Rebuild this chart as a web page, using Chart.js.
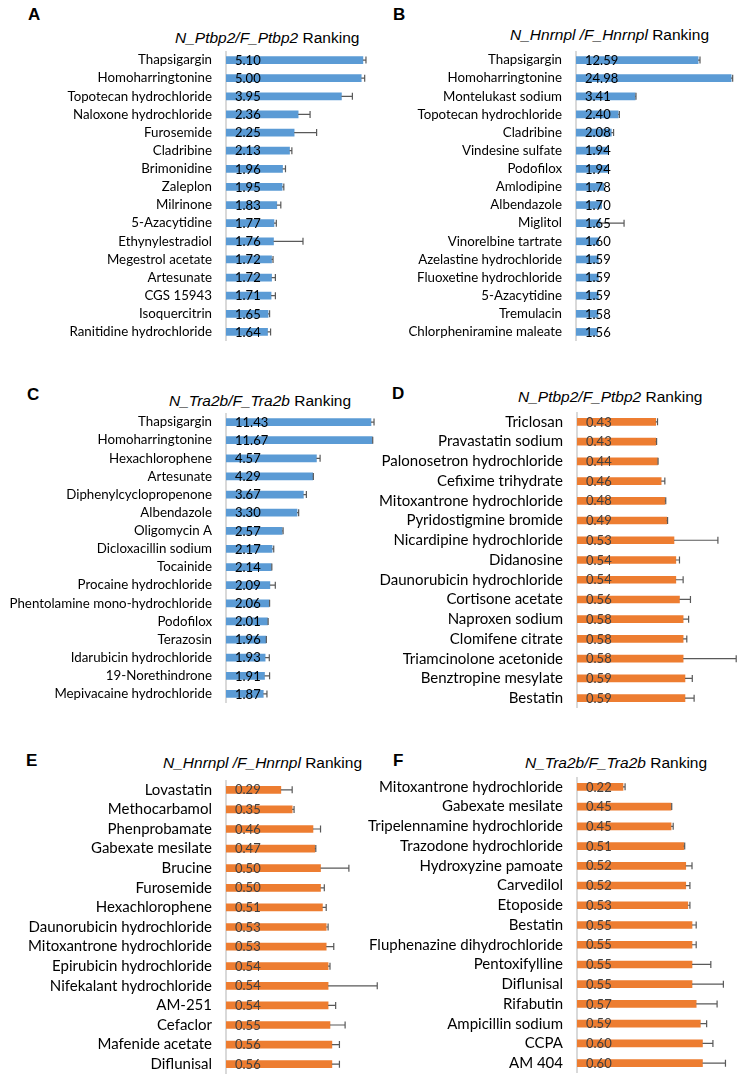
<!DOCTYPE html>
<html>
<head>
<meta charset="utf-8">
<script src="https://cdn.jsdelivr.net/npm/chart.js@4.4.1/dist/chart.umd.min.js"></script>
<style>
  body { margin: 0; background: #fff; width: 747px; height: 1080px; position: relative; overflow: hidden; }
  canvas { position: absolute; }
  .letter { position: absolute; font: bold 17px "Liberation Sans", Arial, sans-serif; line-height: 17px; }
  .ttl { position: absolute; font: 15.5px "Liberation Sans", Arial, sans-serif; line-height: 16px; white-space: nowrap; }
</style>
</head>
<body>
<div class="letter" style="left:28px;top:6px">A</div>
<div class="letter" style="left:393px;top:6px">B</div>
<div class="letter" style="left:27px;top:386px">C</div>
<div class="letter" style="left:392px;top:385px">D</div>
<div class="letter" style="left:26px;top:752px">E</div>
<div class="letter" style="left:393px;top:752px">F</div>

<div class="ttl" style="left:175px;top:30px"><i>N_Ptbp2/F_Ptbp2</i> Ranking</div>
<div class="ttl" style="left:510px;top:27px"><i>N_Hnrnpl /F_Hnrnpl</i> Ranking</div>
<div class="ttl" style="left:169px;top:393px"><i>N_Tra2b/F_Tra2b</i> Ranking</div>
<div class="ttl" style="left:518px;top:389px"><i>N_Ptbp2/F_Ptbp2</i> Ranking</div>
<div class="ttl" style="left:163px;top:755px"><i>N_Hnrnpl /F_Hnrnpl</i> Ranking</div>
<div class="ttl" style="left:525px;top:755px"><i>N_Tra2b/F_Tra2b</i> Ranking</div>

<canvas id="chartA" width="370" height="290" style="left:0px;top:51px"></canvas>
<canvas id="chartB" width="387" height="290" style="left:360px;top:51px"></canvas>
<canvas id="chartC" width="380" height="290" style="left:0px;top:413px"></canvas>
<canvas id="chartD" width="387" height="296" style="left:360px;top:412px"></canvas>
<canvas id="chartE" width="385" height="294" style="left:0px;top:780px"></canvas>
<canvas id="chartF" width="387" height="296" style="left:360px;top:777px"></canvas>

<script>
// panel A: N_Ptbp2/F_Ptbp2, top ranked
const aLabels = ['Thapsigargin', 'Homoharringtonine', 'Topotecan hydrochloride', 'Naloxone hydrochloride', 'Furosemide', 'Cladribine', 'Brimonidine', 'Zaleplon', 'Milrinone', '5-Azacytidine', 'Ethynylestradiol', 'Megestrol acetate', 'Artesunate', 'CGS 15943', 'Isoquercitrin', 'Ranitidine hydrochloride'];
const aValues = [5.10, 5.00, 3.95, 2.36, 2.25, 2.13, 1.96, 1.95, 1.83, 1.77, 1.76, 1.72, 1.72, 1.71, 1.65, 1.64];
const aErrors = [0.19, 0.21, 0.55, 0.36, 0.69, 0.06, 0.07, 0.04, 0.09, 0.05, 0.74, 0.03, 0.08, 0.09, 0.03, 0.06];

// panel B: N_Hnrnpl/F_Hnrnpl, top ranked
const bLabels = ['Thapsigargin', 'Homoharringtonine', 'Montelukast sodium', 'Topotecan hydrochloride', 'Cladribine', 'Vindesine sulfate', 'Podofilox', 'Amlodipine', 'Albendazole', 'Miglitol', 'Vinorelbine tartrate', 'Azelastine hydrochloride', 'Fluoxetine hydrochloride', '5-Azacytidine', 'Tremulacin', 'Chlorpheniramine maleate'];
const bValues = [12.59, 24.98, 3.41, 2.40, 2.08, 1.94, 1.94, 1.78, 1.70, 1.65, 1.60, 1.59, 1.59, 1.59, 1.58, 1.56];
const bErrors = [0.5, 0.8, 0.06, 0.06, 0.1, 0, 0, 0, 0, 1.06, 0, 0, 0, 0, 0, 0];

// panel C: N_Tra2b/F_Tra2b, top ranked
const cLabels = ['Thapsigargin', 'Homoharringtonine', 'Hexachlorophene', 'Artesunate', 'Diphenylcyclopropenone', 'Albendazole', 'Oligomycin A', 'Dicloxacillin sodium', 'Tocainide', 'Procaine hydrochloride', 'Phentolamine mono-hydrochloride', 'Podofilox', 'Terazosin', 'Idarubicin hydrochloride', '19-Norethindrone', 'Mepivacaine hydrochloride'];
const cValues = [11.43, 11.67, 4.57, 4.29, 3.67, 3.30, 2.57, 2.17, 2.14, 2.09, 2.06, 2.01, 1.96, 1.93, 1.91, 1.87];
const cErrors = [0.6, 0.1, 0.29, 0.05, 0.19, 0.09, 0.04, 0.06, 0.02, 0.2, 0.02, 0.02, 0.01, 0.14, 0.17, 0.12];

// panel D: N_Ptbp2/F_Ptbp2, bottom ranked
const dLabels = ['Triclosan', 'Pravastatin sodium', 'Palonosetron hydrochloride', 'Cefixime trihydrate', 'Mitoxantrone hydrochloride', 'Pyridostigmine bromide', 'Nicardipine hydrochloride', 'Didanosine', 'Daunorubicin hydrochloride', 'Cortisone acetate', 'Naproxen sodium', 'Clomifene citrate', 'Triamcinolone acetonide', 'Benztropine mesylate', 'Bestatin'];
const dValues = [0.43, 0.43, 0.44, 0.46, 0.48, 0.49, 0.53, 0.54, 0.54, 0.56, 0.58, 0.58, 0.58, 0.59, 0.59];
const dErrors = [0.01, 0.005, 0.003, 0.02, 0.005, 0.005, 0.24, 0.02, 0.04, 0.06, 0.03, 0.02, 0.29, 0.04, 0.05];

// panel E: N_Hnrnpl/F_Hnrnpl, bottom ranked
const eLabels = ['Lovastatin', 'Methocarbamol', 'Phenprobamate', 'Gabexate mesilate', 'Brucine', 'Furosemide', 'Hexachlorophene', 'Daunorubicin hydrochloride', 'Mitoxantrone hydrochloride', 'Epirubicin hydrochloride', 'Nifekalant hydrochloride', 'AM-251', 'Cefaclor', 'Mafenide acetate', 'Diflunisal'];
const eValues = [0.29, 0.35, 0.46, 0.47, 0.50, 0.50, 0.51, 0.53, 0.53, 0.54, 0.54, 0.54, 0.55, 0.56, 0.56];
const eErrors = [0.06, 0.01, 0.04, 0.005, 0.15, 0.02, 0.02, 0.01, 0.04, 0.01, 0.26, 0.04, 0.08, 0.04, 0.04];

// panel F: N_Tra2b/F_Tra2b, bottom ranked
const fLabels = ['Mitoxantrone hydrochloride', 'Gabexate mesilate', 'Tripelennamine hydrochloride', 'Trazodone hydrochloride', 'Hydroxyzine pamoate', 'Carvedilol', 'Etoposide', 'Bestatin', 'Fluphenazine dihydrochloride', 'Pentoxifylline', 'Diflunisal', 'Rifabutin', 'Ampicillin sodium', 'CCPA', 'AM 404'];
const fValues = [0.22, 0.45, 0.45, 0.51, 0.52, 0.52, 0.53, 0.55, 0.55, 0.55, 0.55, 0.57, 0.59, 0.60, 0.60];
const fErrors = [0.01, 0.003, 0.01, 0.005, 0.03, 0.02, 0.01, 0.02, 0.02, 0.09, 0.15, 0.10, 0.03, 0.05, 0.11];

const BLUE = '#5b9bd5';
const ORANGE = '#ed7d31';

Chart.defaults.font.family = 'Lato';

// plus-side error bars + value text at the start of each bar
const errorBars = {
    id: 'errorBars',
    afterDatasetsDraw(chart, args, opts) {
        const ctx = chart.ctx;
        const xs = chart.scales.x;
        const ds = chart.data.datasets[0];
        const meta = chart.getDatasetMeta(0);
        ctx.save();
        meta.data.forEach((bar, i) => {
            const v = ds.data[i];
            const e = ds.errors[i];
            if (e > 0) {
                const x0 = xs.getPixelForValue(v);
                const x1 = xs.getPixelForValue(v + e);
                ctx.strokeStyle = '#595959';
                ctx.lineWidth = 1.2;
                ctx.beginPath();
                ctx.moveTo(x0, bar.y);
                ctx.lineTo(x1, bar.y);
                ctx.moveTo(x1, bar.y - 3.5);
                ctx.lineTo(x1, bar.y + 3.5);
                ctx.stroke();
            }
            ctx.fillStyle = opts.labelColor;
            ctx.font = '13px Lato';
            ctx.textAlign = 'left';
            ctx.textBaseline = 'middle';
            ctx.fillText(v.toFixed(2), bar.base + 9, bar.y + 0.5);
        });
        ctx.restore();
    }
};

function drawPanel(id, labels, values, errors, o) {
    new Chart(document.getElementById(id), {
        type: 'bar',
        data: {
            labels: labels,
            datasets: [{
                data: values,
                errors: errors,
                backgroundColor: o.color,
                barThickness: 7
            }]
        },
        options: {
            indexAxis: 'y',
            responsive: false,
            animation: false,
            layout: { padding: 0 },
            scales: {
                x: {
                    type: o.log ? 'logarithmic' : 'linear',
                    min: o.log ? 1 : 0,
                    max: o.max,
                    display: false
                },
                y: {
                    grid: { display: false, drawTicks: false },
                    border: { color: '#d9d9d9', width: 2 },
                    ticks: { color: '#000', font: { size: o.fontSize }, padding: 14, autoSkip: false },
                    afterFit(s) {
                        s.width = o.axisW;
                        s.paddingTop = 0;
                        s.paddingBottom = 0;
                    }
                }
            },
            plugins: {
                legend: { display: false },
                tooltip: { enabled: false },
                errorBars: { labelColor: o.labelColor }
            }
        },
        plugins: [errorBars]
    });
}

drawPanel('chartA', aLabels, aValues, aErrors, { color: BLUE, log: true, max: 5.55, axisW: 226, fontSize: 13.3, labelColor: '#000' });
drawPanel('chartB', bLabels, bValues, bErrors, { color: BLUE, log: true, max: 34.7, axisW: 216, fontSize: 13.3, labelColor: '#000' });
drawPanel('chartC', cLabels, cValues, cErrors, { color: BLUE, log: true, max: 13.3, axisW: 226, fontSize: 13.3, labelColor: '#000' });
drawPanel('chartD', dLabels, dValues, dErrors, { color: ORANGE, log: false, max: 0.929, axisW: 217, fontSize: 15, labelColor: '#404040' });
drawPanel('chartE', eLabels, eValues, eErrors, { color: ORANGE, log: false, max: 0.841, axisW: 226, fontSize: 15, labelColor: '#404040' });
drawPanel('chartF', fLabels, fValues, fErrors, { color: ORANGE, log: false, max: 0.813, axisW: 217, fontSize: 15, labelColor: '#404040' });
</script>
</body>
</html>
